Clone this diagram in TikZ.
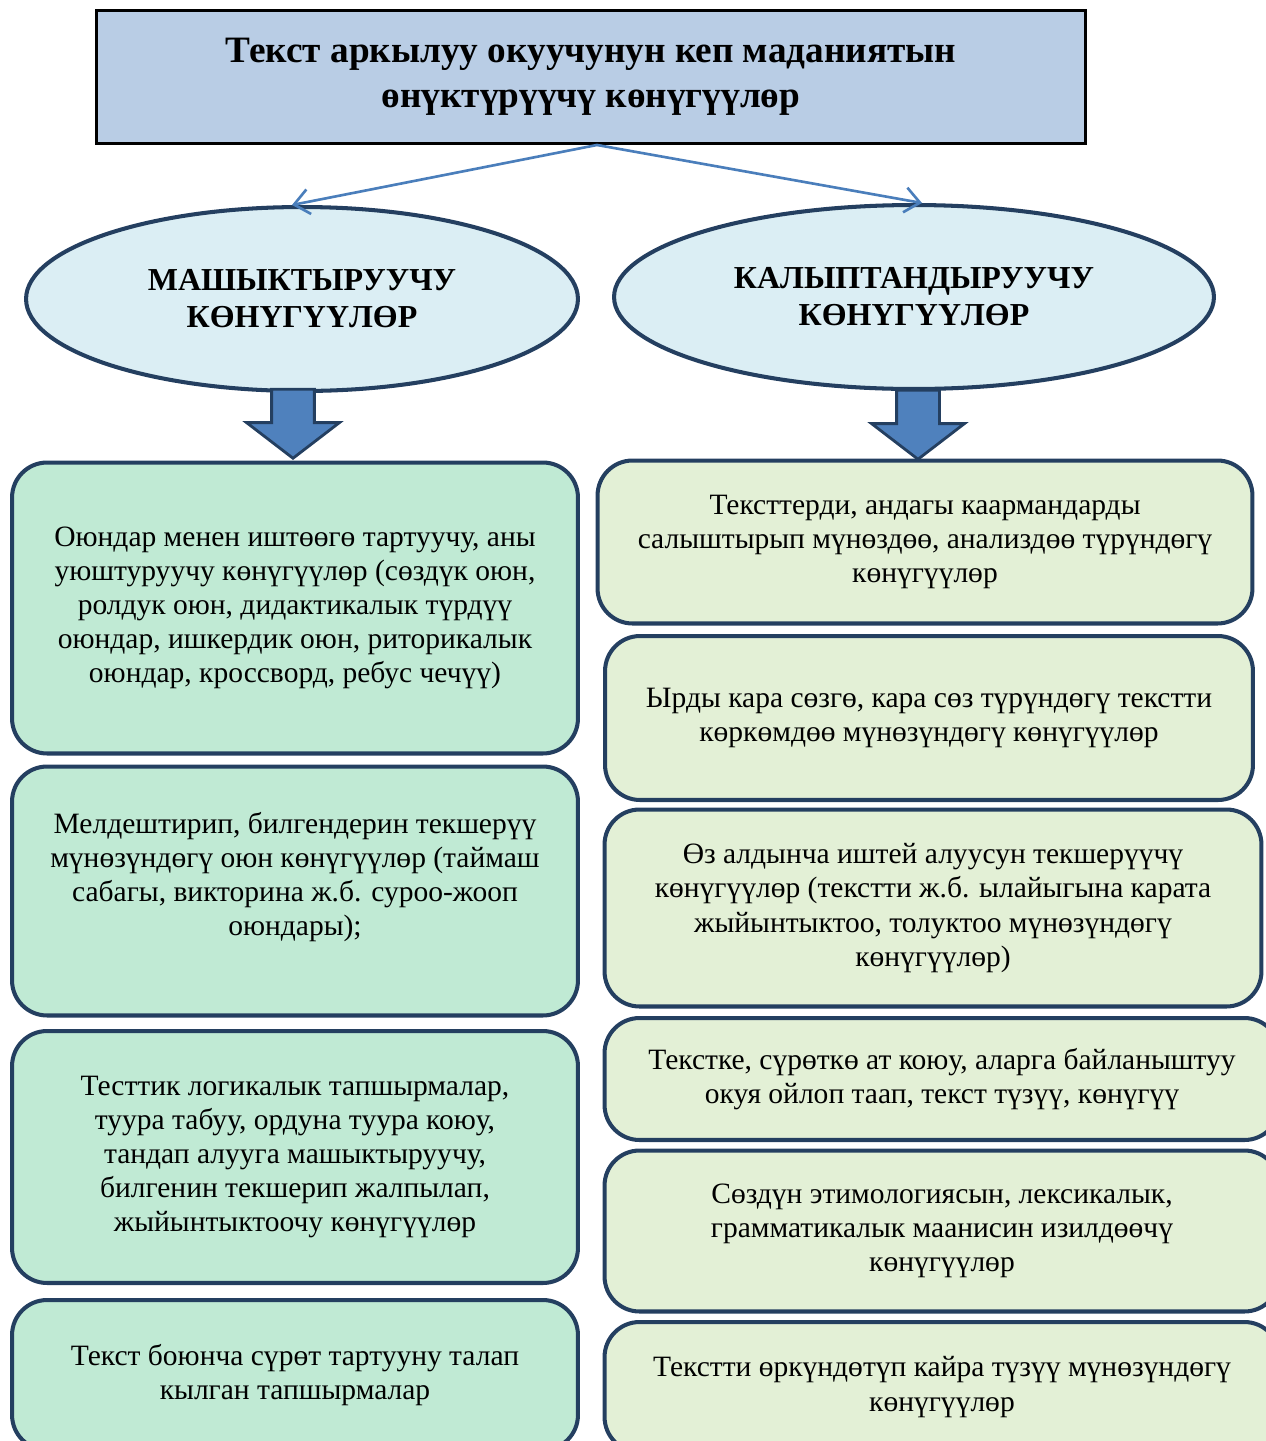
\documentclass[tikz,border=0pt]{standalone}
\usepackage{fontspec}
\setmainfont{Liberation Serif}
\usetikzlibrary{shapes, arrows.meta, positioning}
\definecolor{titleblue}{RGB}{185, 205, 229}
\definecolor{ovalblue}{RGB}{219, 238, 244}
\definecolor{navyline}{RGB}{36, 63, 96}
\definecolor{linkblue}{RGB}{74, 126, 187}
\definecolor{arrowfill}{RGB}{79, 129, 189}
\definecolor{mintgreen}{RGB}{192, 234, 212}
\definecolor{palegreen}{RGB}{227, 240, 214}

\begin{document}
\begin{tikzpicture}[x=0.02cm, y=-0.02cm,
        titlebox/.style={rectangle, draw=black, line width=1.7pt, fill=titleblue, minimum width=19.8cm, minimum height=2.66cm, align=center, font=\fontsize{21.2}{25.6}\selectfont\bfseries},
        oval/.style={ellipse, draw=navyline, line width=2.3pt, fill=ovalblue, minimum height=3.68cm, inner sep=0pt, align=center, font=\fontsize{18.2}{21}\selectfont\bfseries},
        task/.style={rectangle, rounded corners=0.7cm, draw=navyline, line width=2.3pt, align=center, inner sep=0pt, font=\fontsize{16.8}{19.4}\selectfont},
        lefttask/.style={task, fill=mintgreen, minimum width=11.32cm},
        righttask/.style={task, fill=palegreen},
        downarrow/.style={single arrow, draw=navyline, line width=1.6pt, fill=arrowfill, minimum width=1.84cm, minimum height=1.38cm, single arrow head extend=0.5cm, single arrow tip angle=105, shape border rotate=270, inner xsep=0.4cm, inner ysep=0pt},
        link/.style={->, >={Straight Barb[length=3mm, width=5mm]}, draw=linkblue, line width=1.5pt}
    ]
        \useasboundingbox (0, 0) rectangle (1266, 1441);
        \clip (0, 0) rectangle (1266, 1441);

        \node[titlebox] (title) at (591, 77) {Текст аркылуу окуучунун кеп маданиятын\\өнүктүрүүчү көнүгүүлөр};

        \node[oval, minimum width=11.04cm] (mash) at (302, 299) {МАШЫКТЫРУУЧУ\\КӨНҮГҮҮЛӨР};
        \node[oval, minimum width=12cm] (kalyp) at (914, 297) {КАЛЫПТАНДЫРУУЧУ\\КӨНҮГҮҮЛӨР};

        \draw[link] ([xshift=0.12cm]title.south) -- ([xshift=-0.2cm]mash.north);
        \draw[link] ([xshift=0.12cm]title.south) -- ([xshift=0.16cm]kalyp.north);

        % left column
        \node[lefttask, minimum height=5.82cm] (l1) at (295, 608) {Оюндар менен иштөөгө тартуучу, аны\\уюштуруучу көнүгүүлөр (сөздүк оюн,\\ролдук оюн, дидактикалык түрдүү\\оюндар, ишкердик оюн, риторикалык\\оюндар, кроссворд, ребус чечүү)};
        \node[lefttask, minimum height=4.98cm] (l2) at (295, 891) {Мелдештирип, билгендерин текшерүү\\мүнөзүндөгү оюн көнүгүүлөр (таймаш\\сабагы, викторина ж.б. суроо-жооп\\оюндары);\\\mbox{}};
        \node[lefttask, minimum height=5.04cm] (l3) at (295, 1157) {Тесттик логикалык тапшырмалар,\\туура табуу, ордуна туура коюу,\\тандап алууга машыктыруучу,\\билгенин текшерип жалпылап,\\жыйынтыктоочу көнүгүүлөр};
        \node[lefttask, minimum height=3.0cm] (l4) at (295, 1375) {Текст боюнча сүрөт тартууну талап\\кылган тапшырмалар};

        % right column
        \node[righttask, minimum width=13.1cm, minimum height=3.26cm] (r1) at (925, 542) {Тексттерди, андагы каармандарды\\салыштырып мүнөздөө, анализдөө түрүндөгү\\көнүгүүлөр};
        \node[righttask, minimum width=12.96cm, minimum height=3.28cm] (r2) at (929, 718) {Ырды кара сөзгө, кара сөз түрүндөгү текстти\\көркөмдөө мүнөзүндөгү көнүгүүлөр};
        \node[righttask, minimum width=13.14cm, minimum height=3.94cm] (r3) at (933, 908) {Өз алдынча иштей алуусун текшерүүчү\\көнүгүүлөр (текстти ж.б. ылайыгына карата\\жыйынтыктоо, толуктоо мүнөзүндөгү\\көнүгүүлөр)};
        \node[righttask, minimum width=13.5cm, minimum height=2.44cm] (r4) at (942, 1079) {Текстке, сүрөткө ат коюу, аларга байланыштуу\\окуя ойлоп таап, текст түзүү, көнүгүү};
        \node[righttask, minimum width=13.5cm, minimum height=3.22cm] (r5) at (942, 1231) {Сөздүн этимологиясын, лексикалык,\\грамматикалык маанисин изилдөөчү\\көнүгүүлөр};
        \node[righttask, minimum width=13.5cm, minimum height=2.6cm] (r6) at (942, 1387) {Текстти өркүндөтүп кайра түзүү мүнөзүндөгү\\көнүгүүлөр};

        % block arrows
        \node[downarrow, anchor=tip] (arrl) at (293, 460) {};
        \node[downarrow, anchor=tip] (arrr) at (918, 461) {};
    \end{tikzpicture}
\end{document}
